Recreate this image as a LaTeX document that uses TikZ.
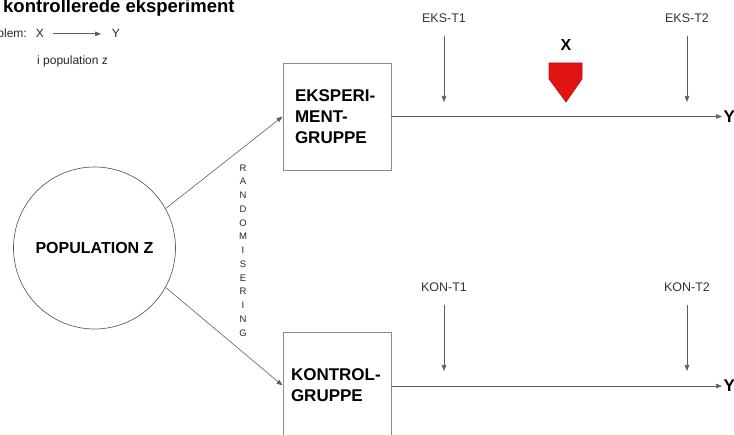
\documentclass[tikz,border=0pt]{standalone}
\usepackage{fontspec}
\setmainfont{Liberation Sans}
\usetikzlibrary{arrows.meta,positioning}

\definecolor{linegray}{RGB}{95,95,95}
\definecolor{boxgray}{RGB}{140,140,140}
\definecolor{markred}{RGB}{225,20,20}

\begin{document}
\begin{tikzpicture}[x=1pt,y=-1pt,
    boks/.style={draw=boxgray, line width=0.9pt, minimum width=108pt,
                 minimum height=107pt, align=left, inner sep=0pt,
                 font=\fontsize{17}{21}\selectfont\bfseries},
    tid/.style={font=\fontsize{12.5}{14}\selectfont, text=black!80},
    lille/.style={font=\fontsize{12}{14}\selectfont, text=black!85},
    pil/.style={draw=linegray, line width=0.6pt,
                -{Triangle[length=6pt,width=4.5pt]}}]
  \useasboundingbox (0,0) rectangle (734,435);
  \clip (0,0) rectangle (734,435);

  % overskrift og problem
  \node[anchor=base west, inner sep=0pt, font=\fontsize{18.5}{20}\selectfont\bfseries]
       (titel) at (3,13) {kontrollerede eksperiment};
  \node[lille, anchor=base east, inner sep=0pt] (prob) at (27,38) {Problem:};
  \node[lille, anchor=base, inner sep=0pt] (px) at (40,38) {X};
  \node[lille, anchor=base, inner sep=0pt] (py) at (116,38) {Y};
  \draw[pil, line width=0.8pt] (px.east) ++(9,0) -- ++(48,0);
  \node[lille, anchor=base west, inner sep=0pt] (ipop) at (37,65) {i population z};

  % population og grupper
  \node[circle, draw=linegray, line width=0.7pt, minimum size=162pt,
        font=\fontsize{16}{18}\selectfont\bfseries] (pop) at (94.5,248) {POPULATION Z};
  \node[boks, text width=84pt] (eks) at (337,116.5) {EKSPERI-\\MENT-\\GRUPPE};
  \node[boks, text width=92pt] (kon) at (337,385.5) {KONTROL-\\GRUPPE};
  \draw[pil] (pop.29) -- (eks.west);
  \draw[pil] (pop.-29) -- (kon.west);
  \node[align=center, font=\fontsize{9.5}{13.75}\selectfont, text=black!85] (rand) at (243,250.5)
       {R\\A\\N\\D\\O\\M\\I\\S\\E\\R\\I\\N\\G};

  % tidslinjer
  \coordinate (eksY) at (722,116.5);
  \coordinate (konY) at (722,386);
  \draw[pil] (eks.east) -- (eksY);
  \draw[pil] (kon.east |- konY) -- (konY);
  \node[anchor=west, inner sep=1.5pt, font=\fontsize{17}{20}\selectfont\bfseries] (y1) at (eksY) {Y};
  \node[anchor=west, inner sep=1.5pt, font=\fontsize{17}{20}\selectfont\bfseries] (y2) at (konY) {Y};

  % maalinger
  \node[tid] (ekst1) at (444,18) {EKS-T1};
  \node[tid] (ekst2) at (687,18) {EKS-T2};
  \node[tid] (kont1) at (444,287) {KON-T1};
  \node[tid] (kont2) at (687,287) {KON-T2};
  \coordinate (e1) at (444,102);
  \coordinate (e2) at (687,102);
  \coordinate (k1) at (444,371);
  \coordinate (k2) at (687,371);
  \draw[pil] (ekst1.south) ++(0,10) -- (e1);
  \draw[pil] (ekst2.south) ++(0,10) -- (e2);
  \draw[pil] (kont1.south) ++(0,10) -- (k1);
  \draw[pil] (kont2.south) ++(0,10) -- (k2);

  % behandling X
  \node[font=\fontsize{16}{18}\selectfont\bfseries] (xlbl) at (566,45) {X};
  \draw[fill=markred, draw=markred!80!black, line width=0.6pt]
       (549,63) -- (582,63) -- (582,79) -- (566,102) -- (549,79) -- cycle;
\end{tikzpicture}
\end{document}
